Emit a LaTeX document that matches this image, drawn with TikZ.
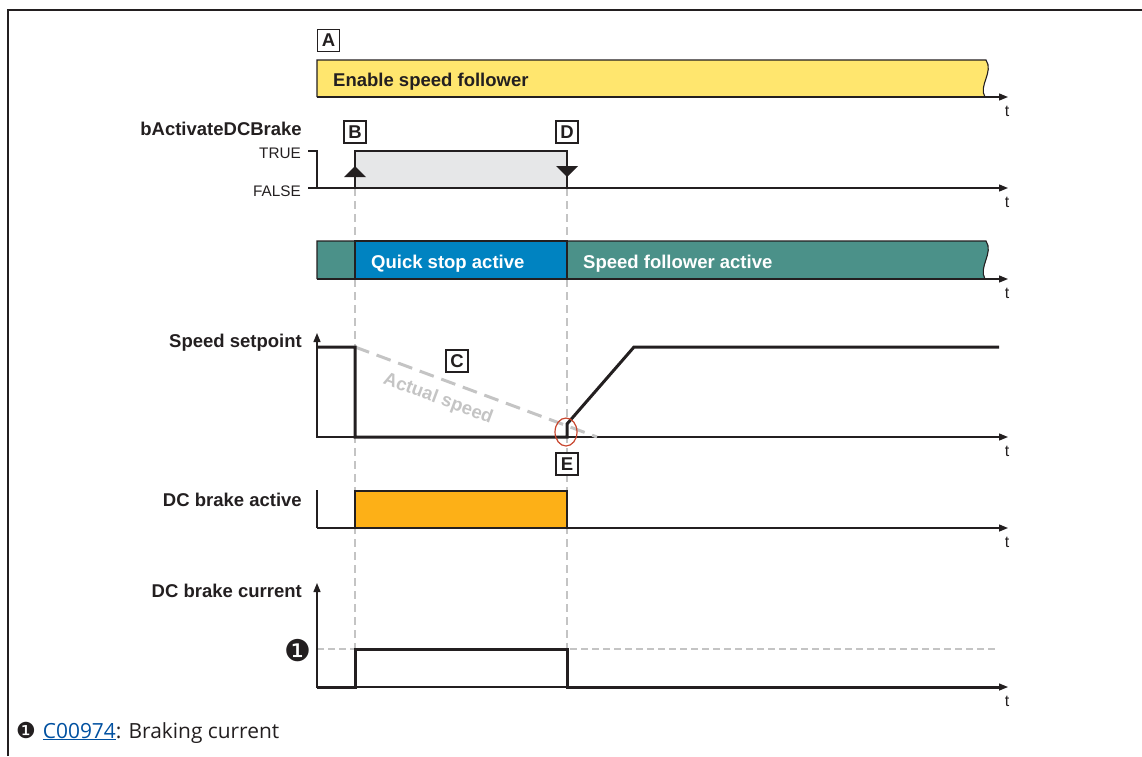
\documentclass[tikz,border=0pt]{standalone}
\usepackage{fontspec}
\setmainfont{Liberation Sans}
\newfontfamily\notefont{Open Sans}
\newfontfamily\symfont{DejaVu Sans}
\usetikzlibrary{arrows.meta}
\definecolor{ink}{HTML}{231F20}
\definecolor{yellowc}{HTML}{FFE66E}
\definecolor{graybox}{HTML}{E6E7E8}
\definecolor{tealc}{HTML}{4B9189}
\definecolor{bluec}{HTML}{0083C1}
\definecolor{orangec}{HTML}{FDB017}
\definecolor{dashgray}{HTML}{C4C4C4}
\definecolor{redc}{HTML}{C8442C}
\definecolor{linkblue}{HTML}{0050A0}
\begin{document}
\begin{tikzpicture}[x=1pt,y=-1pt,
  boldlbl/.style={font=\fontsize{18.5}{22}\selectfont\bfseries, inner sep=0pt, text=ink},
  reglbl/.style={font=\fontsize{15.3}{18}\selectfont, inner sep=0pt, text=ink},
  tlbl/.style={font=\fontsize{16}{18}\selectfont, inner sep=0pt, text=ink, anchor=base},
  letterbox/.style={draw=ink, line width=1.1pt, fill=white, minimum width=22pt, minimum height=22pt, inner sep=0pt, font=\fontsize{18.5}{22}\selectfont\bfseries, text=ink},
  axisline/.style={draw=ink, line width=1.3pt},
  axisarrow/.style={axisline, -{Triangle[length=9pt,width=7pt]}},
  sig/.style={draw=ink, line width=3pt, line join=miter},
  barline/.style={draw=ink, line width=1.1pt},
  vdash/.style={draw=dashgray, line width=1.3pt, dash pattern=on 8pt off 5pt},
  hdash/.style={draw=dashgray, line width=1.3pt, dash pattern=on 7pt off 4pt},
  speeddash/.style={draw=dashgray, line width=3pt, dash pattern=on 15pt off 8pt},
  wtext/.style={font=\fontsize{18.5}{22}\selectfont\bfseries, inner sep=0pt, text=white, anchor=base west}
]
\useasboundingbox (0,0) rectangle (1142,756);
% frame
\draw[line width=2.8pt, ink] (8,756) -- (8,10) -- (1142,10);

% vertical dashed guides
\coordinate (gB1) at (355,188);
\coordinate (gB2) at (355,649);
\coordinate (gD1) at (567,188);
\coordinate (gD2) at (567,649);
\draw[vdash] (gB1) -- (gB2);
\draw[vdash] (gD1) -- (gD2);

% ---------- A: enable speed follower
\node[letterbox] (A) at (328.5,40.5) {A};
\path[fill=yellowc, barline] (317,97) -- (317,60) -- (986,60) .. controls (994,72) and (978,86) .. (985,97);
\node[boldlbl, anchor=base west] (enable) at (333,86) {Enable speed follower};
\coordinate (ax1s) at (317,97); \coordinate (ax1e) at (1008,97);
\draw[axisarrow] (ax1s) -- (ax1e);
\node[tlbl] (t1) at (1007,116) {t};

% ---------- bActivateDCBrake
\node[boldlbl, anchor=base east] (bact) at (302,135) {bActivateDCBrake};
\node[reglbl, anchor=base east] (true) at (301,158) {TRUE};
\node[reglbl, anchor=base east] (false) at (301,196) {FALSE};
\path[fill=graybox, barline] (355,188) -- (355,151) -- (567,151) -- (567,188);
\draw[axisline] (308,151) -- (317,151) -- (317,188);
\coordinate (ax2s) at (308,188); \coordinate (ax2e) at (1008,188);
\draw[axisarrow] (ax2s) -- (ax2e);
\node[tlbl] (t2) at (1007,207) {t};
\fill[ink] (344,177) -- (355,166) -- (366,177) -- cycle;
\fill[ink] (556,166) -- (567,177) -- (578,166) -- cycle;
\node[letterbox] (B) at (355,132) {B};
\node[letterbox] (D) at (567,132) {D};

% ---------- status bar
\path[fill=tealc, barline] (317,279) -- (317,241) -- (986,241) .. controls (994,253) and (978,267) .. (985,279);
\path[fill=bluec, barline] (355,279) -- (355,241) -- (567,241) -- (567,279);
\node[wtext] (qs) at (371,268) {Quick stop active};
\node[wtext] (sf) at (583,268) {Speed follower active};
\coordinate (ax3s) at (317,279); \coordinate (ax3e) at (1008,279);
\draw[axisarrow] (ax3s) -- (ax3e);
\node[tlbl] (t3) at (1007,298) {t};

% ---------- speed setpoint
\node[boldlbl, anchor=base east] (spd) at (302,347) {Speed setpoint};
\coordinate (ax4t) at (317,333); \coordinate (ax4o) at (317,437); \coordinate (ax4e) at (1008,437);
\draw[axisline, {Triangle[length=9pt,width=7pt]}-{Triangle[length=9pt,width=7pt]}] (ax4t) -- (ax4o) -- (ax4e);
\node[tlbl] (t4) at (1007,456) {t};
\draw[speeddash] (355,347) -- (597,437);
\node[font=\fontsize{18.5}{22}\selectfont\bfseries, text=dashgray, inner sep=0pt, rotate=-20.4] (act) at (438,399) {Actual speed};
\draw[sig] (317,347) -- (355,347) -- (355,437) -- (567,437) -- (567,424) -- (634,347) -- (999,347);
\node[letterbox] (C) at (457,361) {C};
\draw[redc, line width=1.2pt] (566,432) ellipse [x radius=11, y radius=14];
\node[letterbox] (E) at (567,464) {E};

% ---------- DC brake active
\node[boldlbl, anchor=base east] (dca) at (302,506) {DC brake active};
\path[fill=orangec, barline] (355,528) -- (355,491) -- (567,491) -- (567,528);
\draw[axisline] (317,490) -- (317,528);
\coordinate (ax5s) at (317,528); \coordinate (ax5e) at (1008,528);
\draw[axisarrow] (ax5s) -- (ax5e);
\node[tlbl] (t5) at (1007,547) {t};

% ---------- DC brake current
\node[boldlbl, anchor=base east] (dcc) at (302,597) {DC brake current};
\draw[hdash] (317,649) -- (996,649);
\coordinate (ax6t) at (317,583); \coordinate (ax6o) at (317,687); \coordinate (ax6e) at (1008,687);
\draw[axisline, {Triangle[length=9pt,width=7pt]}-{Triangle[length=9pt,width=7pt]}] (ax6t) -- (ax6o) -- (ax6e);
\node[tlbl] (t6) at (1007,706) {t};
\draw[sig] (317,687) -- (355,687) -- (355,649) -- (567,649) -- (567,687) -- (1000,687);
\node[font=\symfont\fontsize{30}{30}\selectfont, inner sep=0pt, text=ink] (one) at (298,651) {❶};

% ---------- footnote
\node[anchor=base west, inner sep=0pt, text=ink] (note) at (16,738)
  {{\symfont\fontsize{22}{24}\selectfont ❶}\hspace{7pt}{\notefont\fontsize{20.9}{24}\selectfont\textcolor{linkblue}{\underline{C00974}}: Braking current}};
\end{tikzpicture}
\end{document}
